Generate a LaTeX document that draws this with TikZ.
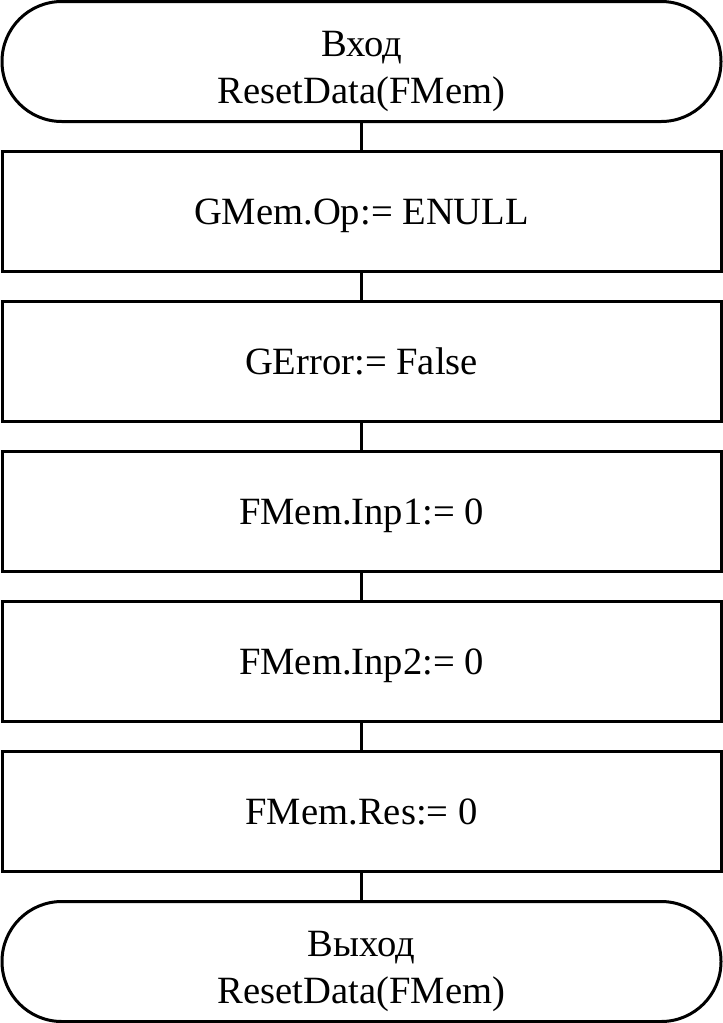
\documentclass[tikz,border=0pt]{standalone}
\usepackage{fontspec}
\setmainfont{Liberation Serif}
\usetikzlibrary{positioning}

\tikzset{
  block/.style={draw, line width=1.5pt, minimum width=359.5pt, minimum height=60pt,
    outer sep=0pt, align=center, font=\fontsize{19.3}{23.7}\selectfont,
    text height=12.6pt, text depth=0pt},
  terminal/.style={block, rounded corners=29.9pt, text height=42.4pt},
}

\begin{document}
\begin{tikzpicture}[node distance=15pt]
        \useasboundingbox (0,0) rectangle (361.5pt,-511.5pt);   % page frame

        \node[terminal] (start) at (180.75pt,-30.75pt) {Вход\\ResetData(FMem)};
        \node[block, below=of start] (op) {GMem.Op:= ENULL};
        \node[block, below=of op] (err) {GError:= False};
        \node[block, below=of err] (inpa) {FMem.Inp1:= 0};
        \node[block, below=of inpa] (inpb) {FMem.Inp2:= 0};
        \node[block, below=of inpb] (res) {FMem.Res:= 0};
        \node[terminal, below=of res] (stop) {Выход\\ResetData(FMem)};

        % connectors
        \draw[line width=1.5pt] (start) -- (op);
        \draw[line width=1.5pt] (op) -- (err);
        \draw[line width=1.5pt] (err) -- (inpa);
        \draw[line width=1.5pt] (inpa) -- (inpb);
        \draw[line width=1.5pt] (inpb) -- (res);
        \draw[line width=1.5pt] (res) -- (stop);
\end{tikzpicture}
\end{document}
